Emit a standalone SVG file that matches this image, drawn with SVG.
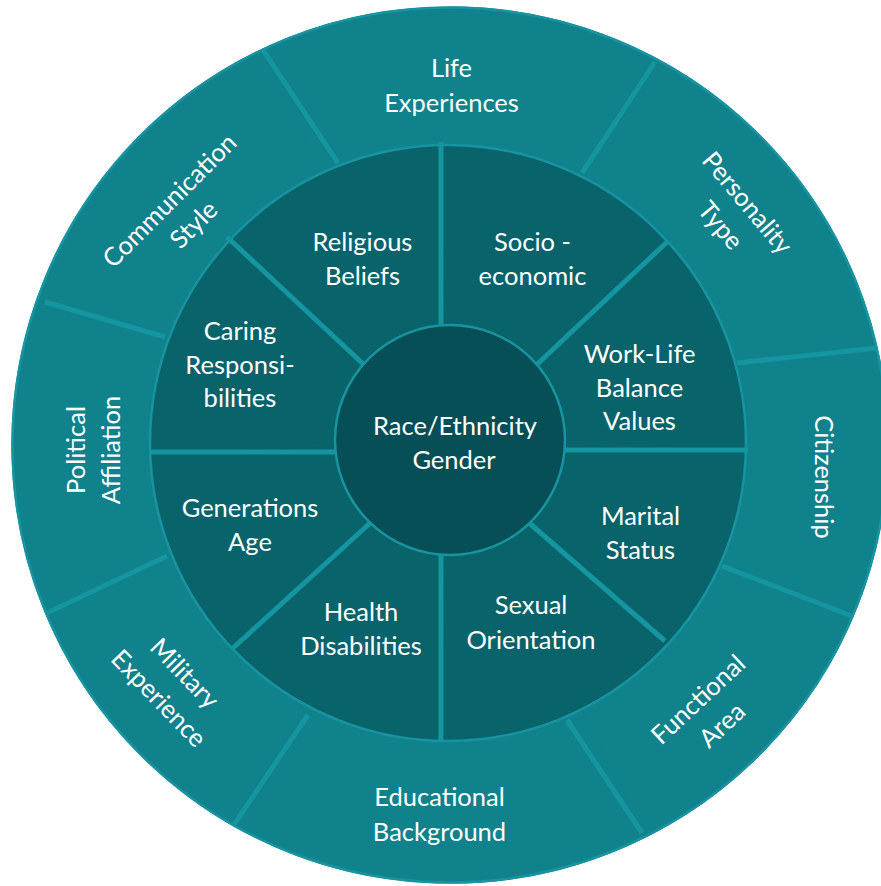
<svg xmlns="http://www.w3.org/2000/svg" width="881" height="886" viewBox="0 0 881 886">
  <style>
    .outer { fill: #10828c; stroke: #10828c; stroke-width: 1.2; stroke-linejoin: round; }
    .inner { fill: #09636b; stroke: #09636b; stroke-width: 1.2; stroke-linejoin: round; }
    .core { fill: #074f56; stroke: #1794a0; stroke-width: 2.5; }
    .rim { fill: none; stroke: #1794a0; stroke-width: 2.5; }
    .div { stroke: #15959f; stroke-width: 5; stroke-linecap: butt; fill: none; }
    .lbl { font-family: Lato, "Open Sans", "Liberation Sans", sans-serif; font-size: 25.5px; fill: #ffffff; text-anchor: middle; }
  </style>
  <rect width="881" height="886" fill="#ffffff"/>

  <!-- outer ring -->
  <g id="life-experiences">
    <path class="outer" d="M262.8,49 A438,438 0 0 1 657,59 L587.1,189.4 A290,290 0 0 0 326.1,182.8 Z"/>
    <text class="lbl" x="451.5" y="77">Life</text>
    <text class="lbl" x="451.5" y="112">Experiences</text>
  </g>
  <g id="personality-type">
    <path class="outer" d="M657,59 A438,438 0 0 1 877.1,348 L732.8,380.8 A290,290 0 0 0 587.1,189.4 Z"/>
    <g transform="translate(733,215) rotate(50)">
      <text class="lbl" x="0" y="-10">Personality</text>
      <text class="lbl" x="0" y="25">Type</text>
    </g>
  </g>
  <g id="citizenship">
    <path class="outer" d="M877.1,348 A438,438 0 0 1 853.2,616.1 L716.9,558.3 A290,290 0 0 0 732.8,380.8 Z"/>
    <text class="lbl" transform="translate(824,477) rotate(90)" x="0" y="9">Citizenship</text>
  </g>
  <g id="functional-area">
    <path class="outer" d="M853.2,616.1 A438,438 0 0 1 644.1,837.7 L578.5,705 A290,290 0 0 0 716.9,558.3 Z"/>
    <g transform="translate(710,712) rotate(-43)">
      <text class="lbl" x="0" y="-8.5">Functional</text>
      <text class="lbl" x="0" y="26.5">Area</text>
    </g>
  </g>
  <g id="educational-background">
    <path class="outer" d="M644.1,837.7 A438,438 0 0 1 233,825.4 L306.3,696.9 A290,290 0 0 0 578.5,705 Z"/>
    <text class="lbl" x="439.5" y="806">Educational</text>
    <text class="lbl" x="439.5" y="841">Background</text>
  </g>
  <g id="military-experience">
    <path class="outer" d="M233,825.4 A438,438 0 0 1 45.6,613.3 L182.3,556.4 A290,290 0 0 0 306.3,696.9 Z"/>
    <g transform="translate(170,687.5) rotate(46)">
      <text class="lbl" x="0" y="-11.5">Military</text>
      <text class="lbl" x="0" y="24.5">Experience</text>
    </g>
  </g>
  <g id="political-affiliation">
    <path class="outer" d="M45.6,613.3 A438,438 0 0 1 36.9,299.5 L176.5,348.7 A290,290 0 0 0 182.3,556.4 Z"/>
    <g transform="translate(92.5,450) rotate(-90)">
      <text class="lbl" x="0" y="-7.5">Political</text>
      <text class="lbl" x="0" y="27.5">Affiliation</text>
    </g>
  </g>
  <g id="communication-style">
    <path class="outer" d="M36.9,299.5 A438,438 0 0 1 262.8,49 L326.1,182.8 A290,290 0 0 0 176.5,348.7 Z"/>
    <g transform="translate(181.5,212.5) rotate(-45)">
      <text class="lbl" x="0" y="-8">Communication</text>
      <text class="lbl" x="0" y="26">Style</text>
    </g>
  </g>

  <!-- outer ring dividers and rim -->
  <g id="outer-dividers" class="div">
    <line x1="263" y1="50" x2="338" y2="163"/>
    <line x1="655" y1="62" x2="582" y2="173"/>
    <line x1="877" y1="348" x2="737" y2="363"/>
    <line x1="722" y1="566" x2="852" y2="616"/>
    <line x1="567" y1="720" x2="642" y2="833"/>
    <line x1="308" y1="715" x2="233" y2="826"/>
    <line x1="167" y1="556" x2="47" y2="613"/>
    <line x1="45" y1="302" x2="165" y2="337"/>
  </g>
  <circle class="rim" cx="450" cy="445" r="437.5"/>

  <!-- inner ring -->
  <g id="religious-beliefs">
    <path class="inner" d="M448,443 L230.1,239.8 A298,298 0 0 1 441.2,145.1 Z"/>
    <text class="lbl" x="362.5" y="251">Religious</text>
    <text class="lbl" x="362.5" y="285">Beliefs</text>
  </g>
  <g id="socio-economic">
    <path class="inner" d="M448,443 L441.2,145.1 A298,298 0 0 1 667.7,241.7 Z"/>
    <text class="lbl" x="532.5" y="251">Socio -</text>
    <text class="lbl" x="532.5" y="285">economic</text>
  </g>
  <g id="work-life-balance">
    <path class="inner" d="M448,443 L667.7,241.7 A298,298 0 0 1 745.9,449.8 Z"/>
    <text class="lbl" x="639.5" y="363">Work-Life</text>
    <text class="lbl" x="639.5" y="397">Balance</text>
    <text class="lbl" x="639.5" y="430">Values</text>
  </g>
  <g id="marital-status">
    <path class="inner" d="M448,443 L745.9,449.8 A298,298 0 0 1 668.1,643.9 Z"/>
    <text class="lbl" x="640.5" y="525">Marital</text>
    <text class="lbl" x="640.5" y="559">Status</text>
  </g>
  <g id="sexual-orientation">
    <path class="inner" d="M448,443 L668.1,643.9 A298,298 0 0 1 441.2,740.9 Z"/>
    <text class="lbl" x="531" y="614">Sexual</text>
    <text class="lbl" x="531" y="649">Orientation</text>
  </g>
  <g id="health-disabilities">
    <path class="inner" d="M448,443 L441.2,740.9 A298,298 0 0 1 232.2,648.5 Z"/>
    <text class="lbl" x="361" y="621">Health</text>
    <text class="lbl" x="361" y="655">Disabilities</text>
  </g>
  <g id="generations-age">
    <path class="inner" d="M448,443 L232.2,648.5 A298,298 0 0 1 150.1,451.8 Z"/>
    <text class="lbl" x="250" y="517">Generations</text>
    <text class="lbl" x="250" y="550.5">Age</text>
  </g>
  <g id="caring-responsibilities">
    <path class="inner" d="M448,443 L150.1,451.8 A298,298 0 0 1 230.1,239.8 Z"/>
    <text class="lbl" x="240" y="340">Caring</text>
    <text class="lbl" x="240" y="373.5">Responsi-</text>
    <text class="lbl" x="240" y="407">bilities</text>
  </g>
  <circle class="rim" cx="448" cy="443" r="298"/>

  <!-- inner ring dividers -->
  <g id="inner-dividers" class="div">
    <line x1="441" y1="142" x2="441" y2="340"/>
    <line x1="227" y1="237" x2="375" y2="375"/>
    <line x1="667" y1="242" x2="530" y2="371"/>
    <line x1="540" y1="450" x2="748" y2="450"/>
    <line x1="520" y1="515" x2="665" y2="641"/>
    <line x1="441" y1="540" x2="441" y2="741"/>
    <line x1="380" y1="514" x2="233" y2="648"/>
    <line x1="150" y1="452" x2="360" y2="452"/>
  </g>

  <!-- core -->
  <g id="race-ethnicity-gender">
    <circle class="core" cx="450" cy="440" r="115"/>
    <text class="lbl" x="455" y="435">Race/Ethnicity</text>
    <text class="lbl" x="454" y="468.5">Gender</text>
  </g>
</svg>
